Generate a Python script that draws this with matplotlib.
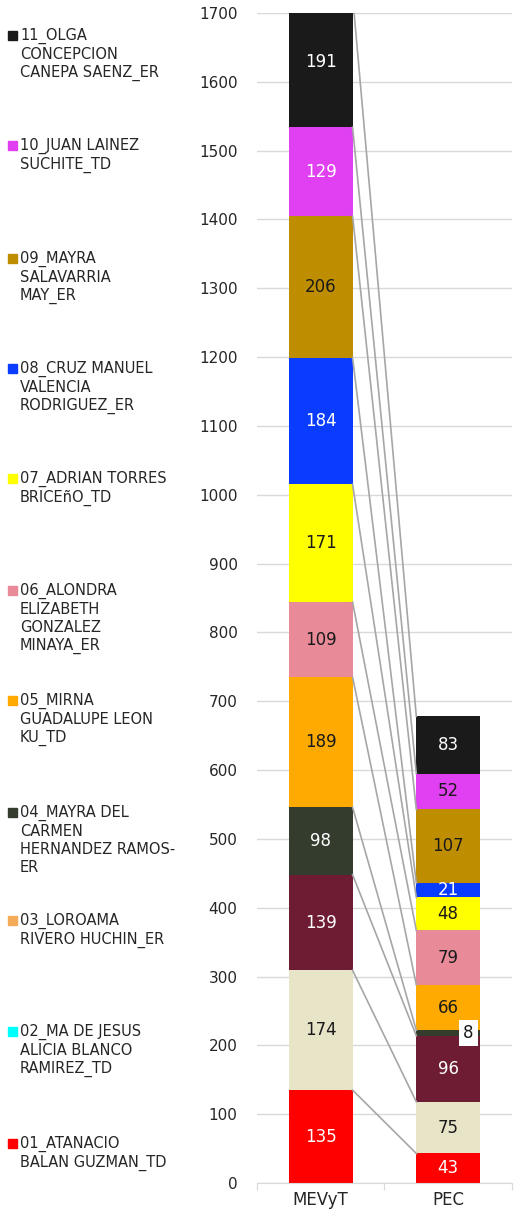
"""Stacked bars MEVyT vs PEC with series lines"""

#%% Importing modules
import matplotlib.pyplot as plt

#%% Data
categories = ['MEVyT', 'PEC']
series_names = ['01_ATANACIO\nBALAN GUZMAN_TD',
                '02_MA DE JESUS\nALICIA BLANCO\nRAMIREZ_TD',
                '03_LOROAMA\nRIVERO HUCHIN_ER',
                '04_MAYRA DEL\nCARMEN\nHERNANDEZ RAMOS-\nER',
                '05_MIRNA\nGUADALUPE LEON\nKU_TD',
                '06_ALONDRA\nELIZABETH\nGONZALEZ\nMINAYA_ER',
                '07_ADRIAN TORRES\nBRICEñO_TD',
                '08_CRUZ MANUEL\nVALENCIA\nRODRIGUEZ_ER',
                '09_MAYRA\nSALAVARRIA\nMAY_ER',
                '10_JUAN LAINEZ\nSUCHITE_TD',
                '11_OLGA\nCONCEPCION\nCANEPA SAENZ_ER']
mevyt = [135, 174, 139, 98, 189, 109, 171, 184, 206, 129, 191]
pec = [43, 75, 96, 8, 66, 79, 48, 21, 107, 52, 83]

bar_colors = ['#FF0000', '#E8E4C8', '#6E1C33', '#343C2E', '#FFAA00', '#E98A99',
              '#FFFF00', '#0A3CFF', '#BF8E00', '#E040F2', '#1A1A1A']
legend_colors = ['#FF0000', '#00FFFF', '#F5AB58', '#343C2E', '#FFAA00', '#E98A99',
                 '#FFFF00', '#0A3CFF', '#BF8E00', '#E040F2', '#1A1A1A']
# white label text per series, for MEVyT and PEC
white_mevyt = [True, False, True, True, False, False, False, True, False, True, True]
white_pec = [True, False, True, False, False, False, False, True, False, False, True]

#%% Figure
plt.rcParams['font.family'] = ['DejaVu Sans']
fig = plt.figure(figsize=(5.15, 12.13), dpi=100)
ax = fig.add_axes([0.499, 0.0247, 0.495, 0.9646])

x = [0, 1]
width = 0.5
bottoms = [0, 0]
tops_m, tops_p = [], []
for i in range(len(series_names)):
    vals = [mevyt[i], pec[i]]
    whites = [white_mevyt[i], white_pec[i]]
    ax.bar(x, vals, width, bottom=bottoms, color=bar_colors[i], zorder=2)
    for j in range(2):
        if vals[j] == 0:
            continue
        tc = 'white' if whites[j] else '#1A1A1A'
        yc = min(bottoms[j] + vals[j] / 2, 1700)
        if vals[j] < 15:
            ax.text(x[j] + 0.16, yc, str(vals[j]), ha='center', va='center',
                    fontsize=12, color='#1A1A1A', zorder=4,
                    bbox=dict(facecolor='white', edgecolor='none', pad=3))
        else:
            ax.text(x[j], yc, str(vals[j]), ha='center', va='center',
                    fontsize=12, color=tc, zorder=4)
    bottoms = [bottoms[0] + vals[0], bottoms[1] + vals[1]]
    tops_m.append(bottoms[0])
    tops_p.append(bottoms[1])

#%% Series lines
for tm, tp in zip(tops_m, tops_p):
    ax.plot([width / 2, 1 - width / 2], [tm, tp], color='#A6A6A6', lw=1.2,
            zorder=3)

#%% Axes styling
ax.set_xlim(-0.5, 1.5)
ax.set_ylim(0, 1700)
ax.set_yticks(range(0, 1701, 100))
ax.yaxis.grid(True, color='#D9D9D9', lw=1)
ax.set_axisbelow(True)
for s in ['top', 'right', 'left']:
    ax.spines[s].set_visible(False)
ax.spines['bottom'].set_color('#D9D9D9')
ax.tick_params(axis='y', length=0, labelsize=11, colors='#262626', pad=14)
ax.set_xticks([-0.5, 0.5, 1.5])
ax.set_xticklabels([])
ax.set_xticks(x, minor=True)
ax.set_xticklabels(categories, minor=True)
ax.tick_params(axis='x', which='major', length=5, color='#D9D9D9')
ax.tick_params(axis='x', which='minor', length=0, labelsize=12, colors='#262626', pad=6)

#%% Legend built by hand, one entry per series from top
entry_top = [1143, 1031, 920, 812, 700, 590, 478, 368, 258, 145, 35]
H = 1213
for name, c, yt in zip(series_names, legend_colors, entry_top):
    fig.add_artist(plt.Rectangle((8 / 515, 1 - (yt + 5) / H), 9 / 515, 9 / H,
                                 transform=fig.transFigure, color=c))
    fig.text(20 / 515, 1 - (yt - 7) / H, name, ha='left', va='top', fontsize=10.5,
             color='#262626', linespacing=1.25)

fig.savefig('out.png', dpi=100)
